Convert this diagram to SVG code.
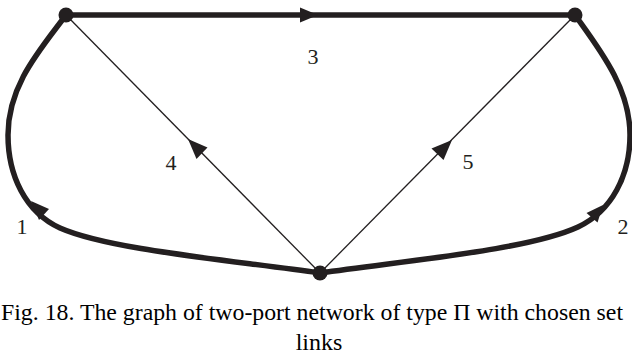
<svg xmlns="http://www.w3.org/2000/svg" width="632" height="361" viewBox="0 0 632 361">
<style>
.thick{fill:none;stroke:#231f20;stroke-width:5.5;stroke-linecap:round}
.thin{fill:none;stroke:#231f20;stroke-width:1.3}
.head{fill:#231f20;stroke:none}
.node{fill:#231f20}
.lbl{font-family:"Liberation Serif","DejaVu Serif",serif;font-size:22px;fill:#231f20;text-anchor:middle}
.cap{font-family:"Liberation Serif","DejaVu Serif",serif;font-size:24px;fill:#000}
</style>
<rect width="632" height="361" fill="#fff"/>
<g id="connectors">
  <g id="edge3">
    <path class="thick" d="M66,15 L575,15"/>
    <polygon class="head" points="318,15 300,7.5 300,22.5"/>
    <text class="lbl" x="313" y="64">3</text>
  </g>
  <g id="edge1">
    <path class="thick" d="M320,273 C230,260 110,250 60,228 C25,212 8,175 8,135 C8,85 40,50 66,15"/>
    <polygon class="head" points="31,201 49,209 39,220"/>
    <text class="lbl" x="22" y="234">1</text>
  </g>
  <g id="edge2">
    <path class="thick" d="M320,273 C410,260 528,250 578,227 C612,211 630,175 630,135 C630,88 600,50 575,15"/>
    <polygon class="head" points="603,205 597.5,222.5 586.5,213"/>
    <text class="lbl" x="623" y="234">2</text>
  </g>
  <g id="edge4">
    <path class="thin" d="M320,273 L66,15"/>
    <polygon class="head" points="188,139 207.5,147.5 196.5,159"/>
    <text class="lbl" x="171" y="170">4</text>
  </g>
  <g id="edge5">
    <path class="thin" d="M320,273 L575,15"/>
    <polygon class="head" points="452,140 443.5,160 431.5,148.5"/>
    <text class="lbl" x="468" y="169">5</text>
  </g>
</g>
<g id="n1"><circle class="node" cx="66" cy="15" r="7.5"/></g>
<g id="n2"><circle class="node" cx="575" cy="15" r="7.5"/></g>
<g id="n3"><circle class="node" cx="320" cy="273" r="7.5"/></g>
<g id="caption">
  <text class="cap" x="1" y="320" textLength="622" lengthAdjust="spacingAndGlyphs">Fig. 18. The graph of two-port network of type Π with chosen set</text>
  <text class="cap" x="319" y="350" text-anchor="middle">links</text>
</g>
</svg>
